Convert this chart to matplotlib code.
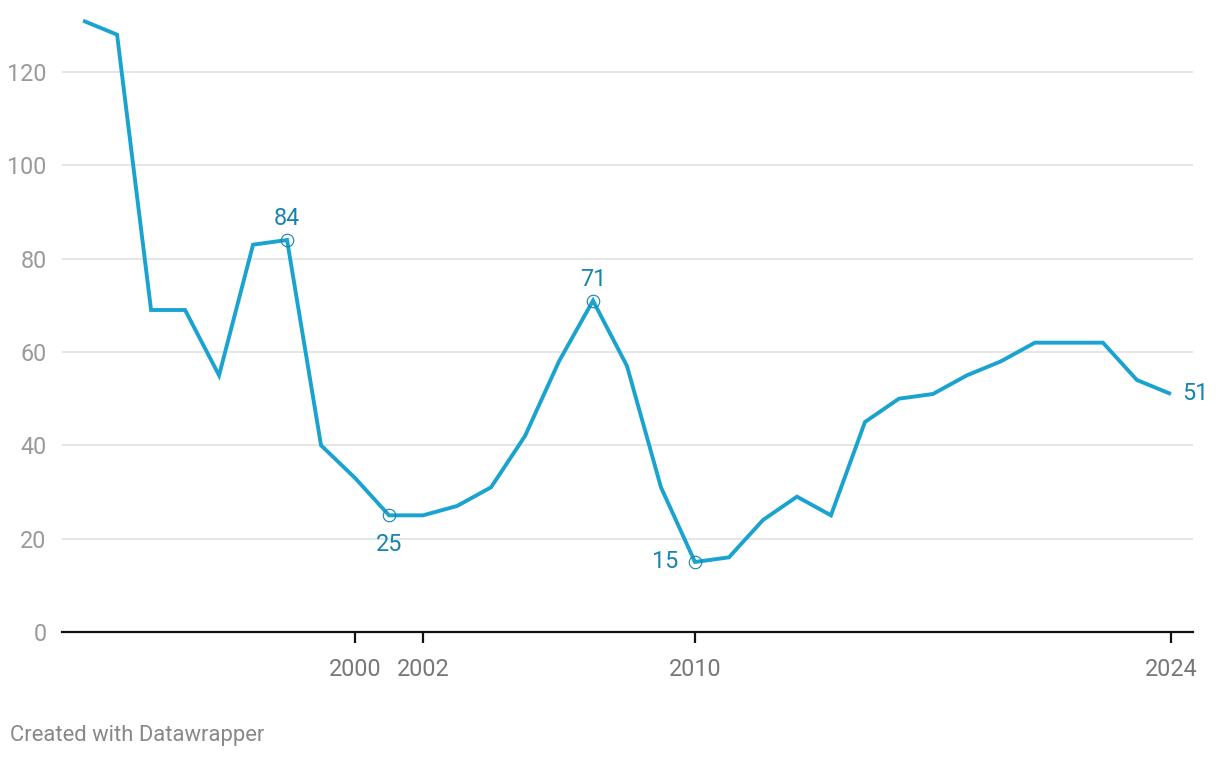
import matplotlib.pyplot as plt

plt.rcParams['font.family'] = ['Roboto', 'DejaVu Sans']

years = list(range(1992, 2025))
values = [131, 128, 69, 69, 55, 83, 84, 40, 33, 25, 25, 27, 31, 42, 58, 71, 57,
          31, 15, 16, 24, 29, 25, 45, 50, 51, 55, 58, 62, 62, 62, 54, 51]

# highlighted points: (year, label placement)
marked = {1998: 'above', 2001: 'below', 2007: 'above', 2010: 'left'}
x_ticks = [2000, 2002, 2010, 2024]
y_ticks = [0, 20, 40, 60, 80, 100, 120]

line_color = '#1ba3cf'
label_color = '#1684ae'
fs = 16.8

fig = plt.figure(figsize=(12.2, 7.58), dpi=100)
ax = fig.add_axes([62 / 1220, 126 / 758, 1131 / 1220, 616 / 758])

ax.plot(years, values, color=line_color, lw=2.8, solid_joinstyle='miter',
        solid_capstyle='butt', clip_on=False, zorder=3)

for yr, where in marked.items():
    v = values[years.index(yr)]
    ax.plot(yr, v, 'o', ms=9, mfc='none', mec=label_color, mew=0.8, zorder=4, clip_on=False)
    if where == 'above':
        ax.annotate(str(v), (yr, v), xytext=(0, 7), textcoords='offset points',
                    ha='center', va='bottom', fontsize=fs, color=label_color)
    elif where == 'below':
        ax.annotate(str(v), (yr, v), xytext=(0, -13), textcoords='offset points',
                    ha='center', va='top', fontsize=fs, color=label_color)
    else:
        ax.annotate(str(v), (yr, v), xytext=(-12, 0), textcoords='offset points',
                    ha='right', va='center', fontsize=fs, color=label_color)

ax.annotate(str(values[-1]), (years[-1], values[-1]), xytext=(8, 0),
            textcoords='offset points', ha='left', va='center',
            fontsize=fs, color=label_color)

ax.set_xlim(1991.38, 2024.65)
ax.set_ylim(0, 132)

ax.set_yticks(y_ticks)
ax.set_xticks(x_ticks)
ax.set_xticklabels([str(t) for t in x_ticks])
ax.grid(axis='y', color='#e2e2e2', lw=1.2)
ax.set_axisbelow(True)

for s in ['top', 'right', 'left']:
    ax.spines[s].set_visible(False)
ax.spines['bottom'].set_color('#111111')
ax.spines['bottom'].set_linewidth(1.6)

ax.tick_params(axis='y', length=0, pad=11, labelsize=fs, labelcolor='#9a9a9a')
ax.tick_params(axis='x', length=8, width=1.6, color='#111111', pad=11,
               labelsize=fs, labelcolor='#777777')

fig.text(10 / 1220, 1 - 735 / 758, 'Created with Datawrapper', fontsize=15.8,
         color='#888888', ha='left', va='center')

fig.savefig('out.png', dpi=100)
